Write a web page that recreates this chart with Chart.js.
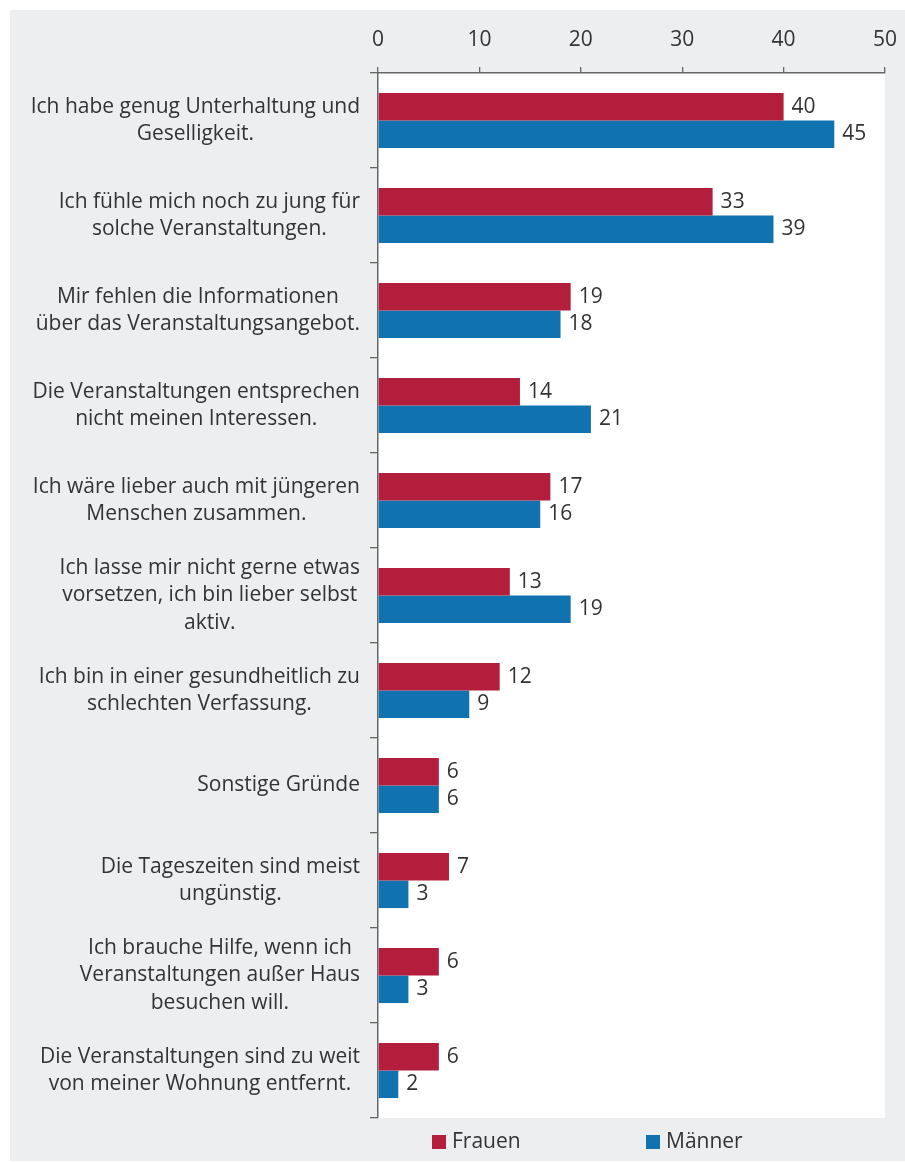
<!DOCTYPE html>
<html>
<head>
<meta charset="utf-8">
<script src="https://cdn.jsdelivr.net/npm/chart.js@4.4.1/dist/chart.umd.min.js"></script>
<style>
  html, body { margin: 0; padding: 0; background: #fff; }
  #wrap { position: absolute; left: 10px; top: 10px; width: 895px; height: 1151px; background: #edeef0; }
</style>
</head>
<body>
<div id="wrap"><canvas id="chart"></canvas></div>
<script>
// categories (one array of lines per label)
const categories = [
  ['Ich habe genug Unterhaltung und', 'Geselligkeit.'],
  ['Ich fühle mich noch zu jung für', 'solche Veranstaltungen.'],
  ['Mir fehlen die Informationen', 'über das Veranstaltungsangebot.'],
  ['Die Veranstaltungen entsprechen', 'nicht meinen Interessen.'],
  ['Ich wäre lieber auch mit jüngeren', 'Menschen zusammen.'],
  ['Ich lasse mir nicht gerne etwas', 'vorsetzen, ich bin lieber selbst', 'aktiv.'],
  ['Ich bin in einer gesundheitlich zu', 'schlechten Verfassung.'],
  ['Sonstige Gründe'],
  ['Die Tageszeiten sind meist', 'ungünstig.'],
  ['Ich brauche Hilfe, wenn ich', 'Veranstaltungen außer Haus', 'besuchen will.'],
  ['Die Veranstaltungen sind zu weit', 'von meiner Wohnung entfernt.']
];
const frauen = [40, 33, 19, 14, 17, 13, 12, 6, 7, 6, 6];
const maenner = [45, 39, 18, 21, 16, 19, 9, 6, 3, 3, 2];
const xTicks = [0, 10, 20, 30, 40, 50];

const FONT = '"Open Sans", "DejaVu Sans", sans-serif';
const SIZE = 21;
const TEXT = '#333';
const RED = '#b31e3c';
const BLUE = '#1172b0';

// white plot background
const plotBg = {
  id: 'plotBg',
  beforeDraw(chart) {
    const a = chart.chartArea, ctx = chart.ctx;
    ctx.save();
    ctx.fillStyle = '#fff';
    ctx.fillRect(a.left, a.top, a.right - a.left, a.bottom - a.top);
    ctx.restore();
  }
};

// category labels: each block centered, right aligned next to axis
const catLabels = {
  id: 'catLabels',
  afterDraw(chart) {
    const ctx = chart.ctx, ys = chart.scales.y, a = chart.chartArea;
    ctx.save();
    ctx.font = SIZE + 'px ' + FONT;
    ctx.fillStyle = TEXT;
    ctx.textAlign = 'center';
    ctx.textBaseline = 'middle';
    categories.forEach((lines, i) => {
      const w = Math.max(...lines.map(l => ctx.measureText(l).width));
      const cx = a.left - 18 - w / 2;
      const cy = ys.getPixelForTick(i);
      const lh = 27.5;
      lines.forEach((l, j) => {
        ctx.fillText(l, cx, cy + (j - (lines.length - 1) / 2) * lh);
      });
    });
    ctx.restore();
  }
};

// value labels at bar ends
const valueLabels = {
  id: 'valueLabels',
  afterDatasetsDraw(chart) {
    const ctx = chart.ctx;
    ctx.save();
    ctx.font = SIZE + 'px ' + FONT;
    ctx.fillStyle = TEXT;
    ctx.textAlign = 'left';
    ctx.textBaseline = 'middle';
    chart.data.datasets.forEach((ds, di) => {
      chart.getDatasetMeta(di).data.forEach((bar, i) => {
        ctx.fillText(ds.data[i], bar.x + 8, bar.y);
      });
    });
    ctx.restore();
  }
};

// legend below the plot
const bottomLegend = {
  id: 'bottomLegend',
  afterDraw(chart) {
    const ctx = chart.ctx, a = chart.chartArea;
    const y = a.bottom + 24;
    const xs = [a.left + 54, a.left + 268];
    ctx.save();
    ctx.font = SIZE + 'px ' + FONT;
    ctx.textBaseline = 'middle';
    ctx.textAlign = 'left';
    chart.data.datasets.forEach((ds, i) => {
      ctx.fillStyle = ds.backgroundColor;
      ctx.fillRect(xs[i], y - 7, 14, 14);
      ctx.fillStyle = TEXT;
      ctx.fillText(ds.label, xs[i] + 20, y);
    });
    ctx.restore();
  }
};

new Chart(document.getElementById('chart'), {
  type: 'bar',
  data: {
    labels: categories,
    datasets: [
      { label: 'Frauen', data: frauen, backgroundColor: RED },
      { label: 'Männer', data: maenner, backgroundColor: BLUE }
    ]
  },
  options: {
    indexAxis: 'y',
    responsive: true,
    maintainAspectRatio: false,
    animation: false,
    categoryPercentage: 0.58,
    barPercentage: 1.0,
    layout: { padding: { top: 0, right: 20, bottom: 43, left: 0 } },
    plugins: { legend: { display: false }, tooltip: { enabled: false } },
    scales: {
      x: {
        position: 'top',
        min: 0,
        max: 50,
        afterBuildTicks(scale) { scale.ticks = xTicks.map(v => ({ value: v })); },
        afterFit(scale) {
          scale.height = 63;
          scale.paddingLeft = 0;
          scale.paddingRight = 0;
        },
        ticks: { font: { family: FONT, size: SIZE }, color: TEXT, padding: 14 },
        grid: { drawOnChartArea: false, drawTicks: true, tickLength: 6, color: '#666', lineWidth: 1.3 },
        border: { display: true, color: '#666', width: 1.5 }
      },
      y: {
        afterFit(scale) { scale.width = 368; },
        ticks: { display: false },
        grid: { offset: true, drawOnChartArea: false, drawTicks: true, tickLength: 8, color: '#666', lineWidth: 1.3 },
        border: { display: true, color: '#666', width: 1.5 }
      }
    }
  },
  plugins: [plotBg, catLabels, valueLabels, bottomLegend]
});
</script>
</body>
</html>
